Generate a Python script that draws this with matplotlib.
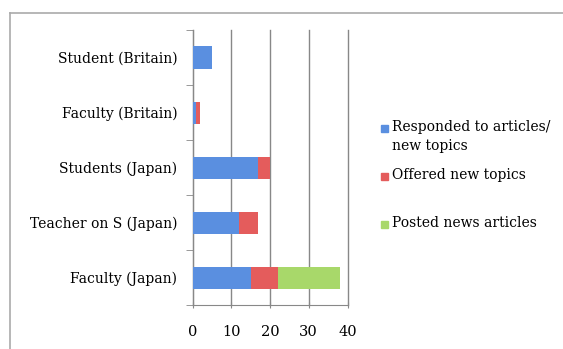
import matplotlib.pyplot as plt
from matplotlib.patches import Rectangle
from matplotlib.lines import Line2D

categories = ['Faculty (Japan)', 'Teacher on S (Japan)', 'Students (Japan)',
              'Faculty (Britain)', 'Student (Britain)']
responded = [15, 12, 17, 1, 5]
offered = [7, 5, 3, 1, 0]
posted = [16, 0, 0, 0, 0]
series_names = ['Responded to articles/\nnew topics', 'Offered new topics',
                'Posted news articles']
colors = ['#5a8fe0', '#e45c5c', '#a8d86a']

plt.rcParams['font.family'] = ['DejaVu Serif']

W, H = 563, 349
fig = plt.figure(figsize=(W / 100, H / 100), dpi=100)

# outer frame (top and left edges only visible)
fig.add_artist(Line2D([10 / W, 10 / W], [0, 1 - 13 / H], transform=fig.transFigure,
                      color='#aaaaaa', lw=1.2))
fig.add_artist(Line2D([10 / W, 1], [1 - 13 / H, 1 - 13 / H], transform=fig.transFigure,
                      color='#aaaaaa', lw=1.2))

ax = fig.add_axes([192.5 / W, 1 - 305 / H, 155 / W, 275 / H])

y = range(len(categories))
left = [0] * len(categories)
for vals, c in zip([responded, offered, posted], colors):
    ax.barh(y, vals, left=left, height=0.4, color=c, zorder=3)
    left = [a + b for a, b in zip(left, vals)]

ax.set_xlim(0, 40)
ax.set_ylim(-0.5, len(categories) - 0.5)
ax.set_xticks([0, 10, 20, 30, 40])
ax.set_yticks(list(y))
ax.set_yticklabels(categories, fontsize=10)
ax.set_yticks([i - 0.5 for i in range(len(categories) + 1)], minor=True)
ax.tick_params(axis='y', which='major', length=0, pad=11)
ax.tick_params(axis='y', which='minor', length=5, color='#888888', direction='out')
ax.tick_params(axis='x', length=5, color='#888888', direction='inout', labelsize=10.5, pad=12)
ax.xaxis.grid(True, color='#888888', lw=1)
for gl in ax.get_xgridlines():
    gl.set_clip_on(False)
for s in ['top', 'right']:
    ax.spines[s].set_visible(False)
for s in ['left', 'bottom']:
    ax.spines[s].set_color('#888888')

# legend, laid out by hand like the original
leg_y = [128, 176, 224]
for name, c, ly in zip(series_names, colors, leg_y):
    fig.add_artist(Rectangle((381 / W, 1 - (ly + 3.5) / H), 6.5 / W, 6.5 / H,
                             transform=fig.transFigure, color=c))
    fig.text(392 / W, 1 - (ly - 8) / H, name, fontsize=10, va='top', ha='left',
             linespacing=1.45)

fig.savefig('out.png', dpi=100)
